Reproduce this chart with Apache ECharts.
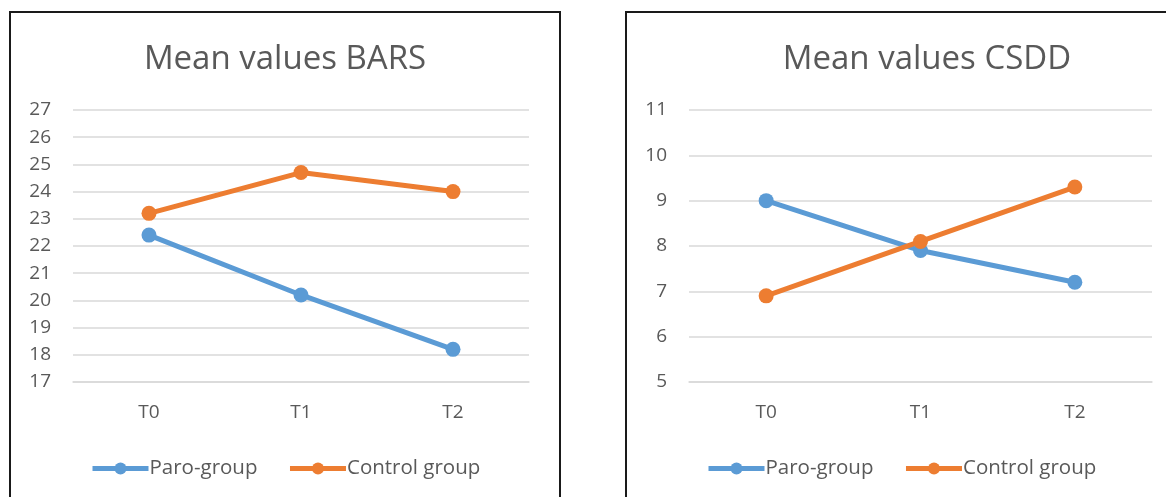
<!DOCTYPE html>
<html>
<head>
<meta charset="utf-8">
<script src="https://cdn.jsdelivr.net/npm/echarts@6/dist/echarts.min.js"></script>
<style>
  html, body { margin:0; padding:0; background:#fff; overflow:hidden; }
  .panel { position:absolute; top:11px; height:500px; border:2px solid #1a1a1a; background:#fff; }
  #left { left:9px; width:548px; }
  #right { left:625px; width:600px; }
</style>
</head>
<body>
<div class="panel" id="left"></div>
<div class="panel" id="right"></div>
<script>
// 数据
var categories = ['T0', 'T1', 'T2'];
var seriesNames = ['Paro-group', 'Control group'];

var barsParo = [22.4, 20.2, 18.2];
var barsControl = [23.2, 24.7, 24.0];

var csddParo = [9.0, 7.9, 7.2];
var csddControl = [6.9, 8.1, 9.3];

var colors = ['#5b9bd5', '#ed7d31'];
var fontFam = '"Open Sans", "Noto Sans", sans-serif';

function makeOption(title, paro, control, yMin, yMax, gridWidth) {
    return {
        color: colors,
        animation: false,
        title: {
            text: title,
            left: 'center',
            top: 25,
            textStyle: { color: '#595959', fontSize: 33, fontWeight: 'normal', fontFamily: fontFam }
        },
        legend: {
            data: seriesNames,
            left: 74,
            top: 440,
            itemWidth: 56,
            itemHeight: 15,
            itemGap: 30,
            lineStyle: { width: 5 },
            textStyle: { color: '#595959', fontSize: 20.5, fontFamily: fontFam, padding: [0, 0, 0, -4] }
        },
        grid: { left: 62, top: 97, width: gridWidth, height: 272 },
        xAxis: {
            type: 'category',
            data: categories,
            axisLine: { show: true, lineStyle: { color: '#d9d9d9', width: 1.5 } },
            axisTick: { show: false },
            axisLabel: { color: '#595959', fontSize: 19, fontFamily: fontFam, margin: 21 }
        },
        yAxis: {
            type: 'value',
            min: yMin,
            max: yMax,
            interval: 1,
            axisLine: { show: false },
            axisTick: { show: false },
            axisLabel: { color: '#595959', fontSize: 19, fontFamily: fontFam, margin: 22 },
            splitLine: { lineStyle: { color: '#d9d9d9', width: 1.5 } }
        },
        series: [
            {
                name: seriesNames[0], type: 'line', data: paro,
                symbol: 'circle', symbolSize: 15,
                lineStyle: { width: 5 }
            },
            {
                name: seriesNames[1], type: 'line', data: control,
                symbol: 'circle', symbolSize: 15,
                lineStyle: { width: 5 }
            }
        ]
    };
}

var leftChart = echarts.init(document.getElementById('left'));
leftChart.setOption(makeOption('Mean values BARS', barsParo, barsControl, 17, 27, 456));

var rightChart = echarts.init(document.getElementById('right'));
rightChart.setOption(makeOption('Mean values CSDD', csddParo, csddControl, 5, 11, 463));
</script>
</body>
</html>
